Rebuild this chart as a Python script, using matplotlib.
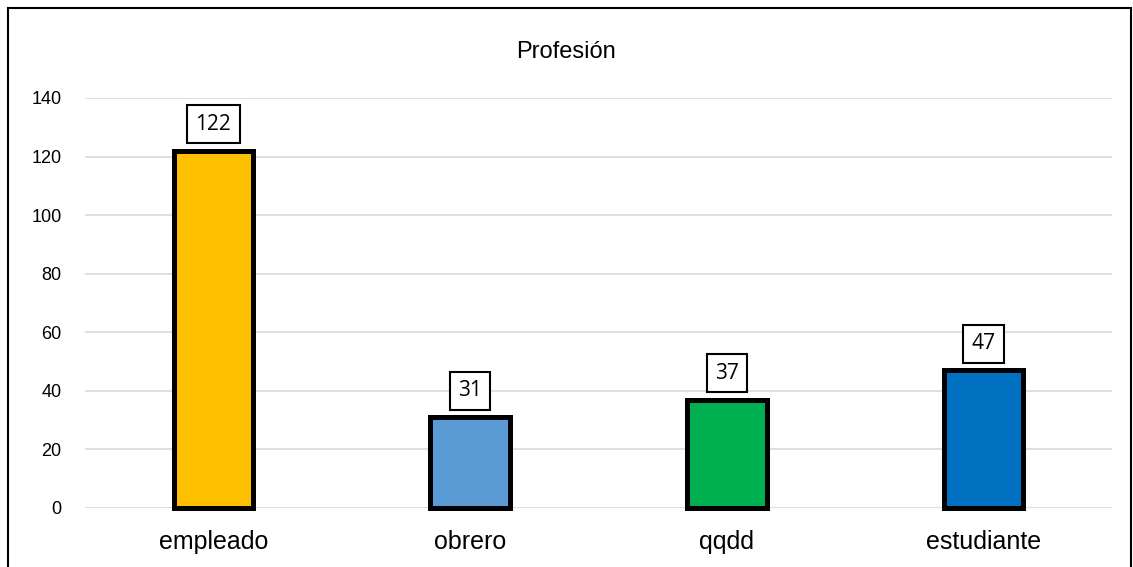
import matplotlib
matplotlib.use("Agg")
import matplotlib.pyplot as plt
from matplotlib.patches import Rectangle

categories = ["empleado", "obrero", "qqdd", "estudiante"]
values = [122, 31, 37, 47]
colors = ["#FFC000", "#5B9BD5", "#00B050", "#0070C0"]
yticks = [0, 20, 40, 60, 80, 100, 120, 140]

fig = plt.figure(figsize=(11.33, 5.67), dpi=100)
ax = fig.add_axes([85/1133, 1-508/567, (1112-85)/1133, (508-98)/567])

x = range(len(categories))
bars = ax.bar(x, values, width=0.31, color=colors, edgecolor="black", linewidth=3.6, zorder=3)
for b in bars:
    b.set_clip_on(False)

ax.set_xlim(-0.5, len(categories)-0.5)
ax.set_ylim(0, 140)
ax.set_yticks(yticks)
ax.set_yticklabels([str(t) for t in yticks], fontfamily="Liberation Sans", fontsize=13)
ax.set_xticks(list(x))
ax.set_xticklabels(categories, fontfamily="Liberation Sans", fontsize=18)
ax.tick_params(axis="both", length=0)
ax.tick_params(axis="y", pad=17)
ax.tick_params(axis="x", pad=16)
ax.grid(axis="y", color="#D9D9D9", linewidth=1.2, zorder=0)
for s in ax.spines.values():
    s.set_visible(False)

for xi, v in zip(x, values):
    ax.annotate(str(v), (xi, v), xytext=(0, 19), textcoords="offset points",
                ha="center", va="center", fontsize=15, fontfamily="Open Sans",
                bbox=dict(boxstyle="square,pad=0.4", fc="white", ec="black", lw=1.5),
                zorder=5)

fig.text(0.5, 1-52/567, "Profesión", ha="center", va="center", fontsize=17, fontfamily="Liberation Sans")

fig.patches.append(Rectangle((8/1133, -0.02), (1131-8)/1133, 1-8/567+0.02, transform=fig.transFigure,
                             fill=False, ec="black", lw=1.5))

fig.savefig("out.png", dpi=100)
